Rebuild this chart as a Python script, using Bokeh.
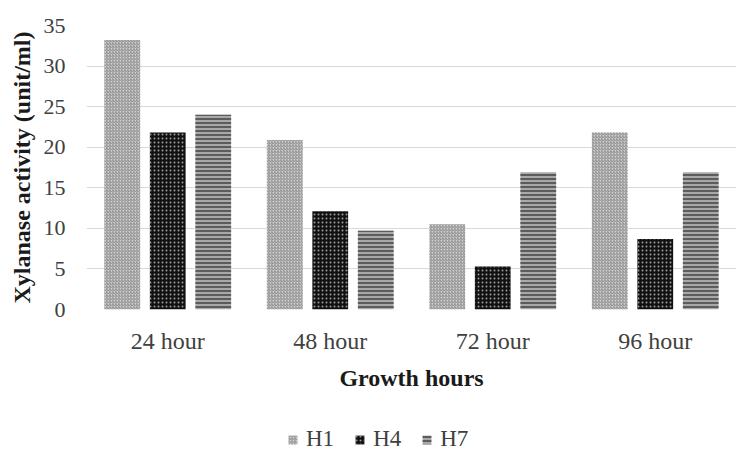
from bokeh.plotting import figure
from bokeh.models import FactorRange, Range1d, Legend, LegendItem, ColumnDataSource
from bokeh.layouts import column
from bokeh.transform import dodge
from bokeh.embed import file_html
from bokeh.resources import INLINE

categories = ["24 hour", "48 hour", "72 hour", "96 hour"]
h1 = [33.2, 20.9, 10.5, 21.8]
h4 = [21.8, 12.1, 5.3, 8.7]
h7 = [24.0, 9.7, 16.9, 16.9]
series_names = ["H1", "H4", "H7"]
y_ticks = [0, 5, 10, 15, 20, 25, 30, 35]

source = ColumnDataSource(dict(cat=categories, H1=h1, H4=h4, H7=h7))

FONT = "Liberation Serif"

p = figure(x_range=FactorRange(*categories), y_range=Range1d(0, 35),
           width=740, height=405, output_backend="svg", toolbar_location=None,
           min_border_left=86, min_border_right=4, min_border_top=25, min_border_bottom=96)
p.outline_line_color = None
p.background_fill_color = "white"
p.border_fill_color = "white"

styles = [
    dict(fill_color="#d0d0d0", hatch_pattern="right_diagonal_line", hatch_color="#8a8a8a", hatch_scale=3, hatch_weight=1),
    dict(fill_color="#111111", hatch_pattern="dot", hatch_color="#9a9a9a", hatch_scale=4, hatch_weight=1.2),
    dict(fill_color="#a8a8a8", hatch_pattern="horizontal_line", hatch_color="#3a3a3a", hatch_scale=4, hatch_weight=1.4),
]
offsets = [-0.28, 0.0, 0.28]
for name, off, st in zip(series_names, offsets, styles):
    p.vbar(x=dodge("cat", off, range=p.x_range), top=name, width=0.22, source=source,
           line_color=None, **st)

p.yaxis.ticker = y_ticks
p.yaxis.axis_line_color = None
p.yaxis.major_tick_line_color = None
p.yaxis.minor_tick_line_color = None
p.yaxis.major_label_standoff = 15
p.yaxis.major_label_text_font = FONT
p.yaxis.major_label_text_font_size = "22px"
p.yaxis.major_label_text_color = "#404040"
p.yaxis.axis_label = "Xylanase activity (unit/ml)"
p.yaxis.axis_label_text_font = FONT
p.yaxis.axis_label_text_font_size = "24px"
p.yaxis.axis_label_text_font_style = "bold"
p.yaxis.axis_label_text_color = "#1a1a1a"
p.yaxis.axis_label_standoff = 6

p.xaxis.axis_line_color = None
p.xaxis.major_tick_line_color = None
p.xaxis.minor_tick_line_color = None
p.xaxis.major_label_standoff = 12
p.xaxis.major_label_text_font = FONT
p.xaxis.major_label_text_font_size = "24px"
p.xaxis.major_label_text_color = "#404040"
p.xaxis.axis_label = "Growth hours"
p.xaxis.axis_label_text_font = FONT
p.xaxis.axis_label_text_font_size = "24px"
p.xaxis.axis_label_text_font_style = "bold"
p.xaxis.axis_label_text_color = "#1a1a1a"
p.xaxis.axis_label_standoff = 8

p.xgrid.grid_line_color = None
p.ygrid.grid_line_color = "#d5dadc"
p.ygrid.grid_line_width = 1.2

# legend strip
lg = figure(width=740, height=47, x_range=Range1d(0, 740), y_range=Range1d(0, 47),
            output_backend="svg", toolbar_location=None, min_border=0,
            x_axis_type=None, y_axis_type=None)
lg.outline_line_color = None
lg.xgrid.grid_line_color = None
lg.ygrid.grid_line_color = None
items = []
for name, st in zip(series_names, styles):
    r = lg.vbar(x=[-1000], top=[0], bottom=[0], width=0, line_color=None, **st)
    items.append(LegendItem(label=name, renderers=[r]))
legend = Legend(items=items, orientation="horizontal", location=(201, 0))
legend.label_text_font = FONT
legend.label_text_font_size = "23px"
legend.label_text_color = "#404040"
legend.glyph_width = 11
legend.glyph_height = 11
legend.spacing = 20
legend.label_standoff = 8
legend.border_line_color = None
legend.background_fill_alpha = 0
legend.margin = 0
legend.padding = 0
lg.add_layout(legend, "center")

layout = column(p, lg, spacing=0)
open("out.html", "w").write(file_html(layout, INLINE))
